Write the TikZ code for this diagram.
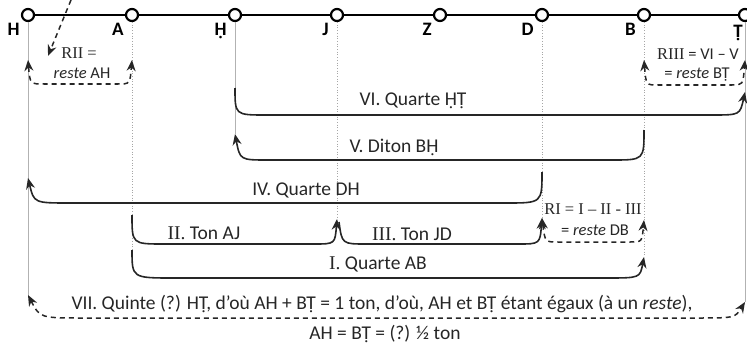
\documentclass[tikz,border=0pt]{standalone}
\usepackage{fontspec}
\setmainfont{Carlito}
\newfontfamily\numf{Liberation Serif}
\usetikzlibrary{arrows.meta}
\begin{document}
\begin{tikzpicture}[x=1pt,y=-1pt,font=\fontsize{19.5}{22}\selectfont,
  pt/.style={circle,draw,fill=white,line width=2.2pt,inner sep=0pt,minimum size=12pt},
  lbl/.style={font=\fontsize{19}{22}\selectfont\bfseries,inner sep=1pt},
  small/.style={font=\fontsize{16.5}{19}\selectfont,inner sep=1pt,black!85},
  guide/.style={gray!60,line width=.7pt},
  dguide/.style={gray!70,line width=.7pt,dotted},
  arc/.style={line width=1.6pt,black!85,-{Stealth[length=11pt,width=9pt]}},
  rest/.style={line width=1.5pt,dash pattern=on 5pt off 4pt,black!85,{Stealth[length=11pt,width=9pt]}-{Stealth[length=11pt,width=9pt]}}]
 \useasboundingbox (0,0) rectangle (747,345);
 % the scale
 \draw[line width=2.4pt] (28,15)--(745,15);
 \node[pt,label={[lbl,label distance=3pt]below left:H}] (H) at (28,15) {};
 \node[pt,label={[lbl,label distance=3pt]below left:A}] (A) at (132,15) {};
 \node[pt,label={[lbl,label distance=3pt]below left:Ḥ}] (Hd) at (235,15) {};
 \node[pt,label={[lbl,label distance=3pt]below left:J}] (J) at (337,15) {};
 \node[pt,label={[lbl,label distance=3pt]below left:Z}] (Z) at (440,15) {};
 \node[pt,label={[lbl,label distance=3pt]below left:D}] (D) at (542,15) {};
 \node[pt,label={[lbl,label distance=3pt]below left:B}] (B) at (644,15) {};
 \node[pt,label={[lbl,label distance=2pt,xshift=-7pt]below:Ṭ}] (Td) at (745,15) {};
 % ends of the arcs
 \coordinate (VIa) at (235,88);  \coordinate (VIb) at (745,92);
 \coordinate (Va) at (644,130);  \coordinate (Vb) at (235,134);
 \coordinate (IVa) at (542,172); \coordinate (IVb) at (28,178);
 \coordinate (IIa) at (132,215); \coordinate (IIb) at (337,219);
 \coordinate (IIIa) at (339,222); \coordinate (IIIb) at (542,218);
 \coordinate (Ia) at (132,250);  \coordinate (Ib) at (644,257);
 \coordinate (RIIa) at (28,60);  \coordinate (RIIb) at (132,60);
 \coordinate (RIIIa) at (644,60); \coordinate (RIIIb) at (745,60);
 \coordinate (RIa) at (542,218); \coordinate (RIb) at (644,220);
 \coordinate (VIIa) at (28,295); \coordinate (VIIb) at (745,302);
 \coordinate (src) at (71,0);    \coordinate (RIIn) at (48,56);
 % guides
 \draw[guide] (H) -- (VIIa);
 \draw[dguide] (A) -- (Ia);
 \draw[guide] (Hd) -- (Vb);
 \draw[dguide] (J) -- (IIb);
 \draw[dguide] (D) -- (IIIb);
 \draw[dguide] (B) -- (Ib);
 \draw[guide] (Td) -- (VIIb);
 % intervals
 \draw[arc] (VIa) .. controls (235,115) .. (266,115) -- (712,115) .. controls (740,115) .. (VIb);
 \draw[arc] (Va) .. controls (644,160) .. (612,160) -- (268,160) .. controls (240,160) .. (Vb);
 \draw[arc] (IVa) .. controls (542,203) .. (506,203) -- (70,203) .. controls (34,203) .. (IVb);
 \draw[arc] (IIa) .. controls (132,244) .. (164,244) -- (314,244) .. controls (335,244) .. (IIb);
 \draw[arc] (IIIa) .. controls (342,244) .. (366,244) -- (518,244) .. controls (540,244) .. (IIIb);
 \draw[arc] (Ia) .. controls (132,278) .. (174,278) -- (606,278) .. controls (640,278) .. (Ib);
 % restes
 \draw[rest] (RIIa) .. controls (30,84) .. (44,84) -- (118,84) .. controls (130,84) .. (RIIb);
 \draw[rest] (RIIIa) .. controls (646,85) .. (658,85) -- (732,85) .. controls (743,85) .. (RIIIb);
 \draw[rest] (RIa) .. controls (545,242) .. (558,242) -- (630,242) .. controls (642,242) .. (RIb);
 \draw[rest] (VIIa) .. controls (40,318) .. (84,318) -- (696,318) .. controls (735,318) .. (VIIb);
 \draw[line width=1.5pt,dash pattern=on 5pt off 4pt,black!85,-{Stealth[length=11pt,width=9pt]}] (src) -- (RIIn);
 % texts
 \node[small] (tRII) at (79,53) {\numf RII =};
 \node[small] (tRIIr) at (82,73) {\textit{reste} AH};
 \node[small] (tRIII) at (698,54) {{\numf RIII} = VI – V};
 \node[small] (tRIIIr) at (697,75) {= \textit{reste} BṬ};
 \node[small] (tRI) at (593,209) {\numf RI = I – II - III};
 \node[small] (tRIr) at (595,230) {= \textit{reste} DB};
 \node[black!85] (tVI) at (413,101) {VI. Quarte ḤṬ};
 \node[black!85] (tV) at (394,147) {V. Diton BḤ};
 \node[black!85] (tIV) at (306,190) {IV. Quarte DH};
 \node[black!85] (tII) at (204,233) {{\numf II.} Ton AJ};
 \node[black!85] (tIII) at (412,234) {{\numf III.} Ton JD};
 \node[black!85] (tI) at (378,264) {{\numf I.} Quarte AB};
 \node[black!85] (tVII) at (382,304) {VII. Quinte (?) HṬ, d’où AH + BṬ = 1 ton, d’où, AH et BṬ étant égaux (à un \textit{reste}),};
 \node[black!85] (tAH) at (385,334) {AH = BṬ = (?) ½ ton};
\end{tikzpicture}
\end{document}
